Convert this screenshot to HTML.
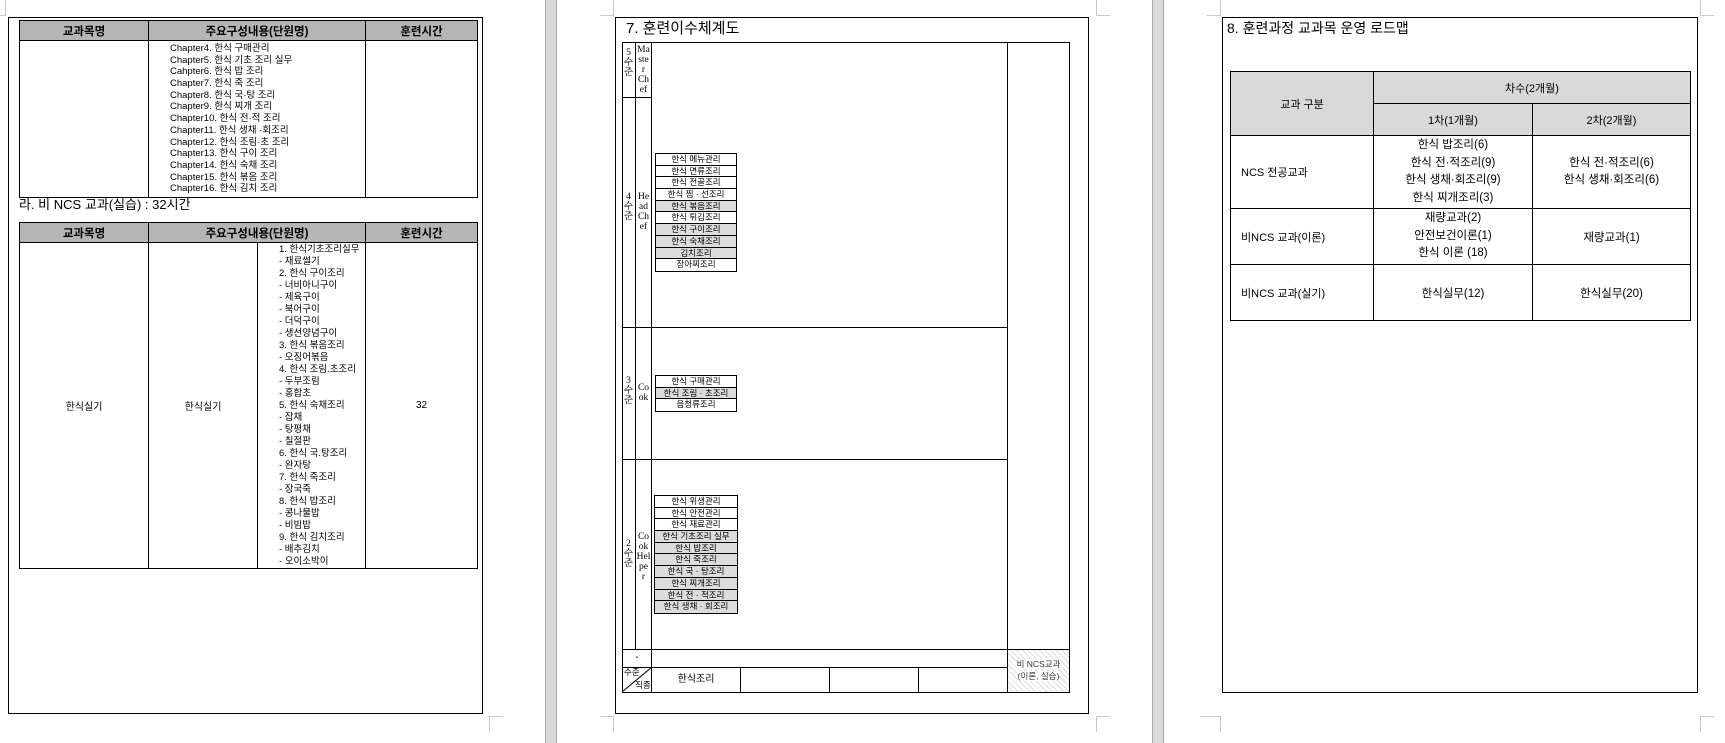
<!DOCTYPE html>
<html><head><meta charset="utf-8"><style>
body{margin:0;width:1725px;height:743px;position:relative;background:#fff;overflow:hidden;font-family:"Liberation Sans","Noto Sans CJK KR",sans-serif;color:#000}
.a{position:absolute;box-sizing:border-box}
.frame{border:1.5px solid #000}
.strip{background:#d9d9d9;border-left:1px solid #aaa;border-right:1px solid #aaa;top:0;height:743px}
table{border-collapse:collapse;position:absolute;table-layout:fixed}
td{border:1px solid #000;padding:0;font-size:10px;text-align:center;vertical-align:middle}
.hd td{background:#b5b5b5;font-size:11.5px;font-weight:bold;height:19px}
.ls{font-size:9.5px;line-height:11.7px;text-align:left}
.vt{font-size:9.5px;line-height:10px;text-align:center;font-family:"Liberation Serif","Noto Serif CJK SC",serif}
.box div{height:11.7px;border-bottom:1px solid #000;font-size:8.5px;line-height:11px;text-align:center;box-sizing:border-box;overflow:hidden;white-space:nowrap}
.box div:last-child{border-bottom:none}
.g{background:#dcdcdc}
.mk{border-color:#c8c8c8;border-style:solid;border-width:0}
</style></head><body>
<div class="a strip" style="left:545px;width:12px"></div>
<div class="a strip" style="left:1152px;width:12px"></div>

<div class="a mk" style="left:0;top:0;width:6px;height:16px;border-right-width:1px;border-bottom-width:1px"></div>
<div class="a mk" style="left:489px;top:716px;width:14px;height:16px;border-left-width:1px;border-top-width:1px"></div>
<div class="a mk" style="left:600px;top:0;width:14px;height:16px;border-right-width:1px;border-bottom-width:1px"></div>
<div class="a mk" style="left:1096px;top:0;width:14px;height:16px;border-left-width:1px;border-bottom-width:1px"></div>
<div class="a mk" style="left:600px;top:716px;width:14px;height:16px;border-right-width:1px;border-top-width:1px"></div>
<div class="a mk" style="left:1096px;top:716px;width:14px;height:16px;border-left-width:1px;border-top-width:1px"></div>
<div class="a mk" style="left:1207px;top:0;width:14px;height:16px;border-right-width:1px;border-bottom-width:1px"></div>
<div class="a mk" style="left:1700px;top:0;width:14px;height:16px;border-left-width:1px;border-bottom-width:1px"></div>
<div class="a mk" style="left:1200px;top:716px;width:21px;height:16px;border-right-width:1px;border-top-width:1px"></div>
<div class="a mk" style="left:1700px;top:716px;width:14px;height:16px;border-left-width:1px;border-top-width:1px"></div>

<!-- PAGE 1 -->
<div class="a frame" style="left:8px;top:17px;width:475px;height:697px"></div>
<table style="left:19px;top:20px;width:458px">
<colgroup><col style="width:129px"><col style="width:217px"><col style="width:112px"></colgroup>
<tr class="hd"><td>교과목명</td><td>주요구성내용(단원명)</td><td>훈련시간</td></tr>
<tr><td style="height:156px"></td><td class="ls" style="padding-left:21px">Chapter4. 한식 구매관리<br>Chapter5. 한식 기초 조리 실무<br>Cahpter6. 한식 밥 조리<br>Chapter7. 한식 죽 조리<br>Chapter8. 한식 국·탕 조리<br>Chapter9. 한식 찌개 조리<br>Chapter10. 한식 전·적 조리<br>Chapter11. 한식 생채 ·회조리<br>Chapter12. 한식 조림·초 조리<br>Chapter13. 한식 구이 조리<br>Chapter14. 한식 숙채 조리<br>Chapter15. 한식 볶음 조리<br>Chapter16. 한식 김치 조리</td><td></td></tr>
</table>
<div class="a" style="left:19px;top:197px;font-size:13px;line-height:16px">라. 비 NCS 교과(실습) : 32시간</div>
<table style="left:19px;top:222px;width:458px">
<colgroup><col style="width:129px"><col style="width:109px"><col style="width:108px"><col style="width:112px"></colgroup>
<tr class="hd"><td>교과목명</td><td colspan="2">주요구성내용(단원명)</td><td>훈련시간</td></tr>
<tr><td style="height:325px">한식실기</td><td>한식실기</td><td class="ls" style="padding-left:21px;line-height:12px">1. 한식기초조리실무<br>- 재료썰기<br>2. 한식 구이조리<br>- 너비아니구이<br>- 제육구이<br>- 북어구이<br>- 더덕구이<br>- 생선양념구이<br>3. 한식 볶음조리<br>- 오징어볶음<br>4. 한식 조림.초조리<br>- 두부조림<br>- 홍합초<br>5. 한식 숙채조리<br>- 잡채<br>- 탕평채<br>- 칠절판<br>6. 한식 국.탕조리<br>- 완자탕<br>7. 한식 죽조리<br>- 장국죽<br>8. 한식 밥조리<br>- 콩나물밥<br>- 비빔밥<br>9. 한식 김치조리<br>- 배추김치<br>- 오이소박이</td><td>32</td></tr>
</table>

<!-- PAGE 2 -->
<div class="a frame" style="left:615px;top:17px;width:474px;height:697px"></div>
<div class="a" style="left:626px;top:20px;font-size:15px;line-height:18px">7. 훈련이수체계도</div>
<div class="a" style="left:622px;top:42px;width:448px;height:651px;border:1.5px solid #000"></div>
<div class="a" style="left:635px;top:42px;width:1px;height:607px;background:#000"></div>
<div class="a" style="left:651px;top:42px;width:1px;height:650px;background:#000"></div>
<div class="a" style="left:1007px;top:42px;width:1px;height:650px;background:#000"></div>
<div class="a" style="left:622px;top:97px;width:30px;height:1px;background:#000"></div>
<div class="a" style="left:622px;top:327px;width:385px;height:1px;background:#000"></div>
<div class="a" style="left:622px;top:459px;width:385px;height:1px;background:#000"></div>
<div class="a" style="left:622px;top:649px;width:448px;height:1px;background:#000"></div>
<div class="a" style="left:622px;top:667px;width:385px;height:1px;background:#000"></div>
<div class="a" style="left:740px;top:667px;width:1px;height:25px;background:#000"></div>
<div class="a" style="left:829px;top:667px;width:1px;height:25px;background:#000"></div>
<div class="a" style="left:918px;top:667px;width:1px;height:25px;background:#000"></div>
<div class="a vt" style="left:622px;top:48px;width:13px">5<br>수<br>준</div>
<div class="a vt" style="left:636px;top:45px;width:15px">Ma<br>ste<br>r<br>Ch<br>ef</div>
<div class="a vt" style="left:622px;top:192px;width:13px">4<br>수<br>준</div>
<div class="a vt" style="left:636px;top:192px;width:15px">He<br>ad<br>Ch<br>ef</div>
<div class="a vt" style="left:622px;top:376px;width:13px">3<br>수<br>준</div>
<div class="a vt" style="left:636px;top:383px;width:15px">Co<br>ok</div>
<div class="a vt" style="left:622px;top:539px;width:13px">2<br>수<br>준</div>
<div class="a vt" style="left:636px;top:532px;width:15px">Co<br>ok<br>Hel<br>pe<br>r</div>
<div class="a" style="left:622px;top:650px;width:30px;text-align:center;font-size:10px;line-height:16px">-</div>
<svg class="a" style="left:622px;top:667px" width="30" height="25"><line x1="0" y1="25" x2="30" y2="0" stroke="#000" stroke-width="1"/></svg>
<div class="a" style="left:624px;top:667px;font-size:8.5px;line-height:10px">수준</div>
<div class="a" style="left:635px;top:680px;font-size:8.5px;line-height:10px">직종</div>
<div class="a" style="left:652px;top:667px;width:88px;text-align:center;font-size:10px;line-height:25px">한식조리</div>
<div class="a" style="left:1008px;top:650px;width:61px;height:42px;background:repeating-linear-gradient(45deg,#fff 0 3px,#ddd 3px 4px),#fff;font-size:8.5px;line-height:12px;text-align:center;padding-top:8px;color:#333"><span style="background:#fff">비 NCS교과<br>(이론, 실습)</span></div>
<div class="a box" style="left:655px;top:153px;width:82px;border:1px solid #000">
<div>한식 메뉴관리</div><div>한식 면류조리</div><div>한식 전골조리</div><div>한식 찜 · 선조리</div><div class="g">한식 볶음조리</div><div>한식 튀김조리</div><div class="g">한식 구이조리</div><div class="g">한식 숙채조리</div><div class="g">김치조리</div><div>장아찌조리</div>
</div>
<div class="a box" style="left:655px;top:375px;width:82px;border:1px solid #000">
<div>한식 구매관리</div><div class="g">한식 조림 · 초조리</div><div>음청류조리</div>
</div>
<div class="a box" style="left:654px;top:495px;width:84px;border:1px solid #000">
<div>한식 위생관리</div><div>한식 안전관리</div><div>한식 재료관리</div><div class="g">한식 기초조리 실무</div><div class="g">한식 밥조리</div><div class="g">한식 죽조리</div><div class="g">한식 국 · 탕조리</div><div class="g">한식 찌개조리</div><div class="g">한식 전 · 적조리</div><div class="g">한식 생채 · 회조리</div>
</div>

<!-- PAGE 3 -->
<div class="a frame" style="left:1222px;top:17px;width:476px;height:676px"></div>
<div class="a" style="left:1227px;top:19px;font-size:14px;line-height:18px">8. 훈련과정 교과목 운영 로드맵</div>
<table style="left:1230px;top:71px;width:460px">
<colgroup><col style="width:143px"><col style="width:159px"><col style="width:158px"></colgroup>
<tr><td rowspan="2" style="background:#d9d9d9;font-size:11px;height:31px">교과 구분</td><td colspan="2" style="background:#d9d9d9;font-size:11px;height:31px">차수(2개월)</td></tr>
<tr><td style="background:#d9d9d9;font-size:11px;height:31px">1차(1개월)</td><td style="background:#d9d9d9;font-size:11px">2차(2개월)</td></tr>
<tr><td style="text-align:left;padding-left:10px;font-size:11px;height:72px">NCS 전공교과</td><td style="font-size:11.5px;line-height:17.5px">한식 밥조리(6)<br>한식 전·적조리(9)<br>한식 생채·회조리(9)<br>한식 찌개조리(3)</td><td style="font-size:11.5px;line-height:17.5px">한식 전·적조리(6)<br>한식 생채·회조리(6)</td></tr>
<tr><td style="text-align:left;padding-left:10px;font-size:11px;height:55px">비NCS 교과(이론)</td><td style="font-size:11.5px;line-height:17.5px">재량교과(2)<br>안전보건이론(1)<br>한식 이론 (18)</td><td style="font-size:11.5px">재량교과(1)</td></tr>
<tr><td style="text-align:left;padding-left:10px;font-size:11px;height:55px">비NCS 교과(실기)</td><td style="font-size:11.5px">한식실무(12)</td><td style="font-size:11.5px">한식실무(20)</td></tr>
</table>
</body></html>
